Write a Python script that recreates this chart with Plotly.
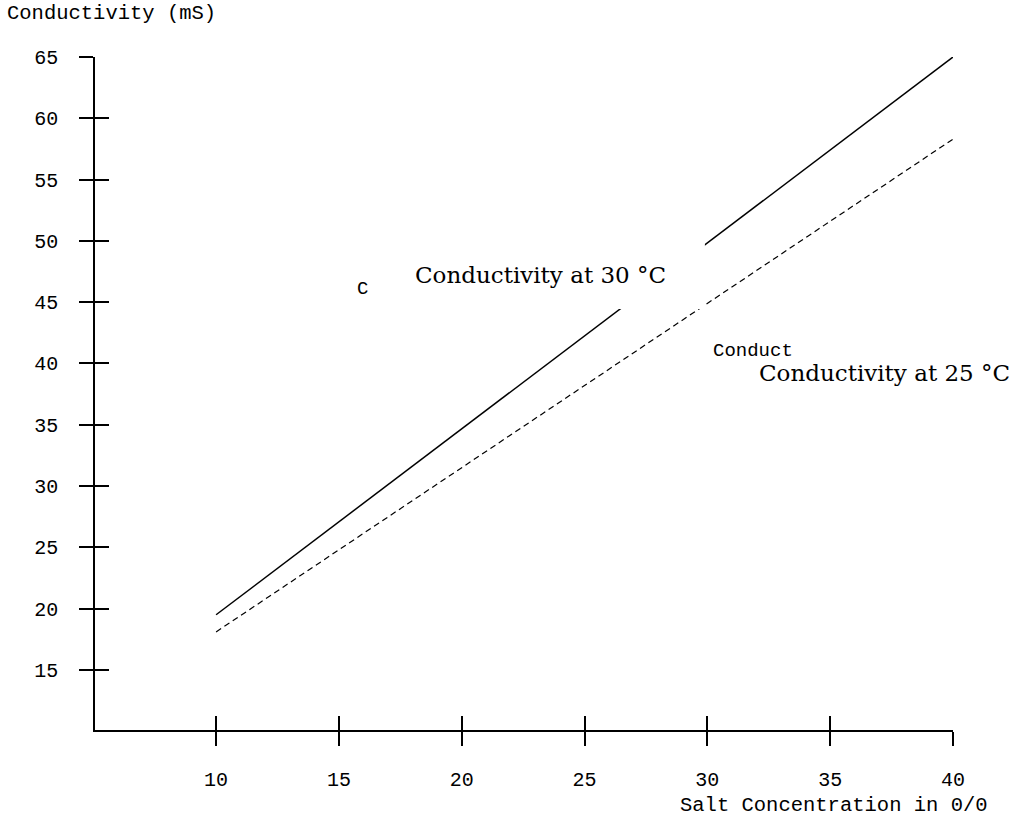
import plotly.graph_objects as go

# salt concentration (0/0) vs conductivity (mS)
salt = [10, 40]
cond_30 = [19.5, 65]
cond_25 = [18.1, 58.3]

x_ticks = [10, 15, 20, 25, 30, 35, 40]
y_ticks = [15, 20, 25, 30, 35, 40, 45, 50, 55, 60, 65]

mono = "Liberation Mono, Courier New, monospace"
serif = "DejaVu Serif, serif"

fig = go.Figure()

fig.add_trace(go.Scatter(
    x=salt, y=cond_30, mode="lines",
    line=dict(color="black", width=1.5),
    showlegend=False, hoverinfo="skip"
))
fig.add_trace(go.Scatter(
    x=salt, y=cond_25, mode="lines",
    line=dict(color="black", width=1.2, dash="6px,4px"),
    showlegend=False, hoverinfo="skip"
))
# invisible trace on the overlay axes so the inside half of the ticks is drawn
fig.add_trace(go.Scatter(
    x=salt, y=cond_30, mode="lines", xaxis="x2", yaxis="y2",
    line=dict(color="rgba(0,0,0,0)"), showlegend=False, hoverinfo="skip"
))

xr = [5.07, 40.0001]
yr = [10.1, 65.0001]

axis_common = dict(showgrid=False, zeroline=False, linecolor="black", linewidth=1.5,
                   tickcolor="black", tickwidth=1.5, ticklen=14)

fig.update_layout(
    width=1012, height=822,
    margin=dict(l=95, r=59, t=57, b=92),
    plot_bgcolor="white", paper_bgcolor="white",
    font=dict(family=mono, size=20, color="black"),
    xaxis=dict(range=xr, tickvals=x_ticks, ticks="outside", showline=True,
               tickfont=dict(family=mono, size=20), ticklabelstandoff=16, **axis_common),
    yaxis=dict(range=yr, tickvals=y_ticks, ticks="outside", showline=True,
               tickfont=dict(family=mono, size=20), ticklabelstandoff=17, **axis_common),
    xaxis2=dict(range=xr, tickvals=x_ticks, ticks="inside", showticklabels=False,
                overlaying="x", anchor="y2", showline=False, **axis_common),
    yaxis2=dict(range=yr, tickvals=y_ticks, ticks="inside", showticklabels=False,
                overlaying="y", anchor="x2", showline=False, **axis_common),
)

# white box that breaks the lines near the label
fig.add_shape(type="rect", x0=26.35, x1=29.9, y0=44.45, y1=49.8,
              fillcolor="white", line_width=0, layer="above")

fig.add_annotation(text="Conductivity (mS)", xref="paper", yref="paper",
                   x=-90 / 858, y=1 + 44 / 673, xanchor="left", yanchor="middle",
                   showarrow=False, font=dict(family=mono, size=20.5))
fig.add_annotation(text="Salt Concentration in 0/0", xref="paper", yref="paper",
                   x=1 + 37 / 858, y=-75 / 673, xanchor="right", yanchor="middle",
                   showarrow=False, font=dict(family=mono, size=20.5))

fig.add_annotation(text="Conductivity at 30 °C", x=23.2, y=47.2,
                   showarrow=False, font=dict(family=serif, size=23))
fig.add_annotation(text="Conductivity at 25 °C", x=37.2, y=39.2,
                   showarrow=False, font=dict(family=serif, size=23))
fig.add_annotation(text="C", x=15.95, y=46.05,
                   showarrow=False, font=dict(family=mono, size=19))
fig.add_annotation(text="Conduct", x=31.85, y=41.0,
                   showarrow=False, font=dict(family=mono, size=19))

# the page body has a default 8px margin; drop it so the figure sits at the corner
fig.write_html("out.html", config={"displayModeBar": False},
               post_script="document.body.style.margin='0';")
